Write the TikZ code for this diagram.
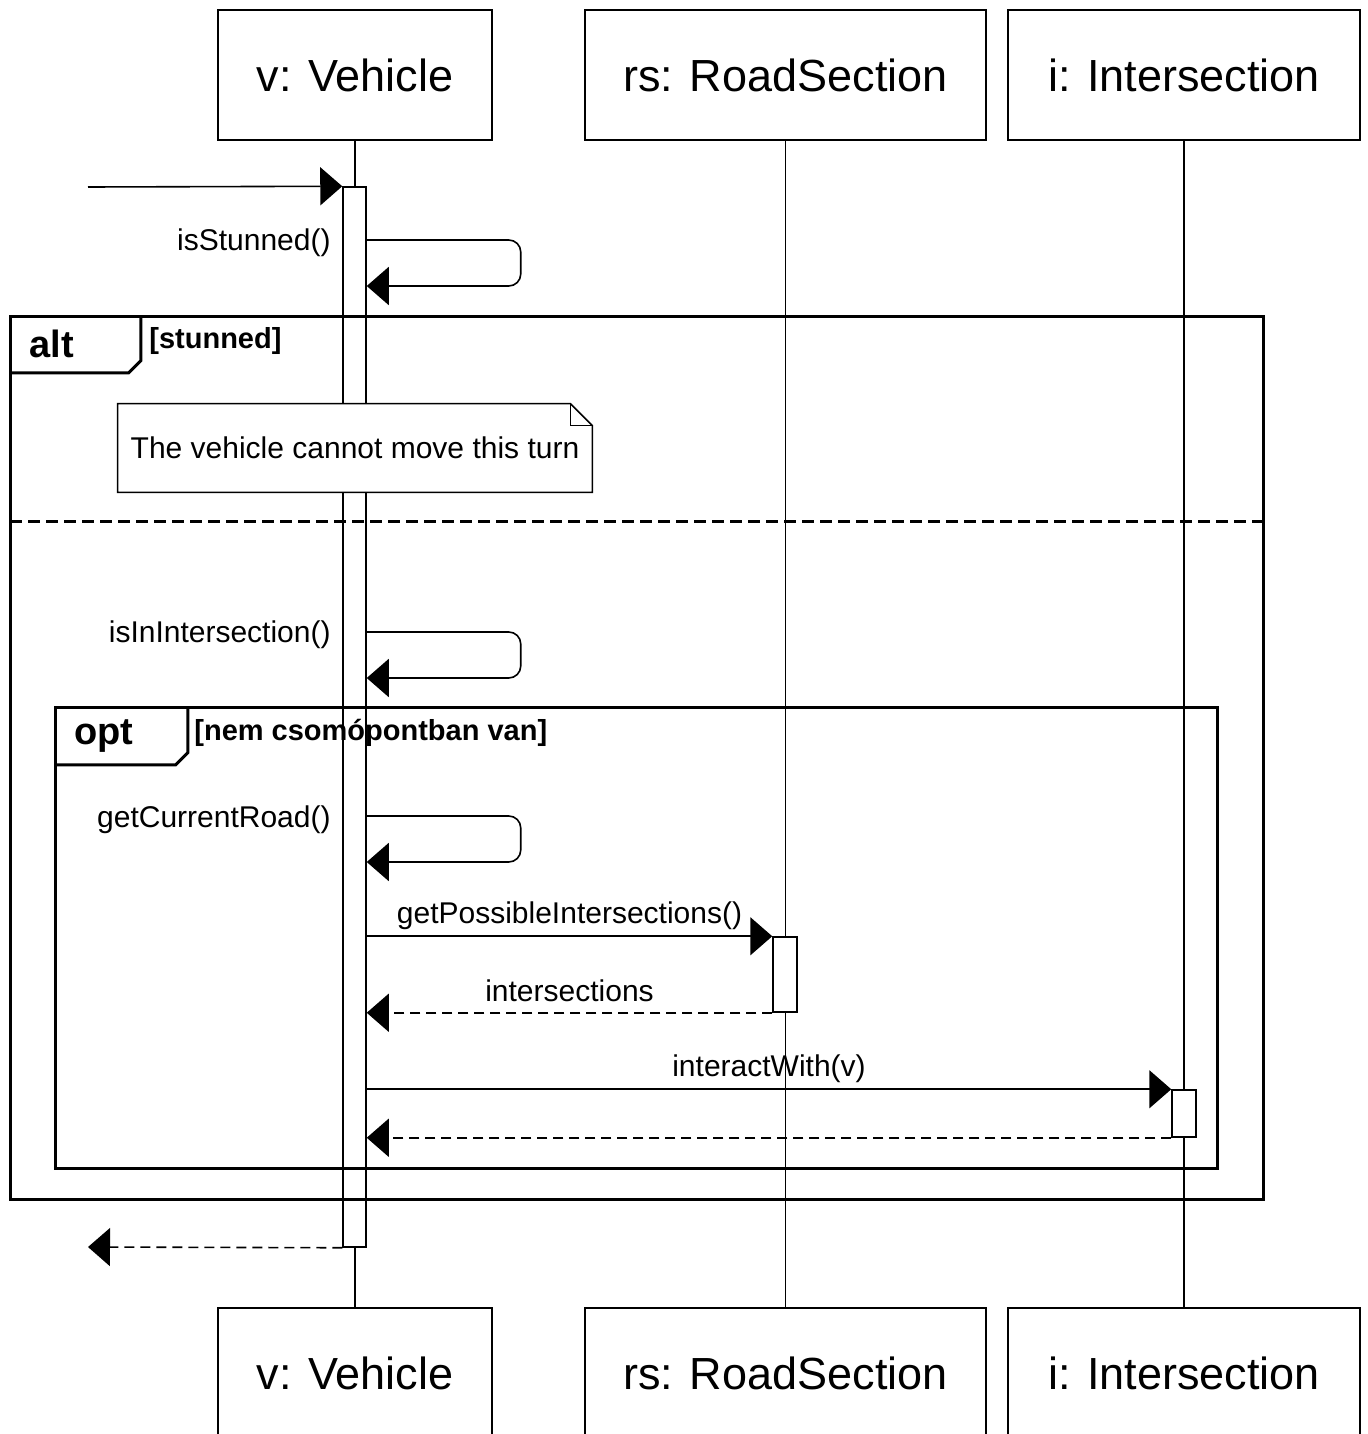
\documentclass[tikz,border=0pt]{standalone}
\usepackage{fontspec}
\setmainfont{Liberation Sans}
\usetikzlibrary{positioning, arrows.meta}

\begin{document}
\begin{tikzpicture}[x=0.5pt, y=-0.5pt]
\tikzstyle{obj}=[rectangle, draw=black, line width=0.75pt, outer sep=0pt, minimum height=65pt, font=\fontsize{22.5}{27}\selectfont]
\tikzstyle{bar}=[rectangle, draw=black, fill=white, line width=0.75pt, minimum width=11.5pt, inner sep=0pt]
\tikzstyle{life}=[line width=0.75pt]
\tikzstyle{connect}=[-{Triangle[length=11pt, width=19pt]}, line width=0.8pt]
\tikzstyle{reply}=[connect, dash pattern=on 5pt off 3pt]
\tikzstyle{self}=[connect, rounded corners=6pt]
\tikzstyle{lbl}=[font=\fontsize{15}{18}\selectfont, inner sep=1pt]
\tikzstyle{frame}=[line width=1.5pt]
\tikzstyle{tab}=[rectangle, anchor=north west, minimum height=28pt, text width=46pt, align=left, inner xsep=9.5pt, font=\bfseries\fontsize{19}{22}\selectfont]
\tikzstyle{guard}=[anchor=west, inner sep=0pt, font=\bfseries\fontsize{14.5}{17}\selectfont]
\tikzstyle{note}=[rectangle, fill=white, minimum width=237pt, minimum height=44pt, font=\fontsize{15}{18}\selectfont]
    \clip (0,0) rectangle (1367,1434);

    % objects
    \node[obj, minimum width=137pt] (v) at (355,75) {v: Vehicle};
    \node[obj, minimum width=200.5pt] (rs) [right=46.5pt of v] {rs: RoadSection};
    \node[obj, minimum width=176pt] (i) [right=11pt of rs] {i: Intersection};
    \node[obj, minimum width=137pt] (vb) [below=584pt of v] {v: Vehicle};
    \node[obj, minimum width=200.5pt] (rsb) [below=584pt of rs] {rs: RoadSection};
    \node[obj, minimum width=176pt] (ib) [below=584pt of i] {i: Intersection};

    \draw[life] (v) -- (vb);
    \draw[life] (rs) -- (rsb);
    \draw[life] (i) -- (ib);

    % activations
    \node[bar, minimum height=530pt] (vbar) at (354.5,717) {};
    \node[bar, minimum width=12pt, minimum height=37.5pt] (rsbar) at (785,974.5) {};
    \node[bar, minimum width=12pt, minimum height=23.5pt] (ibar) at (1184,1113.5) {};

    % alt frame
    \draw[frame] (10,316) rectangle (1263,1199);
    \node[tab] (altTab) at (10,316) {alt};
    \draw[frame] (altTab.north east) -- ([yshift=6pt]altTab.south east) -- ([xshift=-6pt]altTab.south east) -- (altTab.south west);
    \node[guard] (altGuard) at (149,341) {[stunned]};
    \draw[frame, dash pattern=on 6pt off 3pt] (10,521) -- (1263,521);

    % opt frame
    \draw[frame] (55,707) rectangle (1217,1168);
    \node[tab, minimum height=28.5pt, text width=47pt] (optTab) at (55,707) {opt};
    \draw[frame] (optTab.north east) -- ([yshift=6pt]optTab.south east) -- ([xshift=-6pt]optTab.south east) -- (optTab.south west);
    \node[guard] (optGuard) at (194,733) {[nem csomópontban van]};

    % messages
    \coordinate (start) at (88,187);
    \coordinate (end) at (88,1247);
    \draw[connect] (start) -- (vbar.north west);

    \draw[self] (vbar.east |- 0,240) -- ++(154,0) |- (vbar.east |- 0,286);
    \node[lbl, anchor=east] (m1) at (333,243) {isStunned()};

    \node[note] (nt) at (355,448) {The vehicle cannot move this turn};
    \draw[life] (nt.south west) -- (nt.north west) -- ([xshift=-11pt]nt.north east) -- ([yshift=-11pt]nt.north east) -- (nt.south east) -- cycle;
    \draw[life] ([xshift=-11pt]nt.north east) |- ([yshift=-11pt]nt.north east);

    \draw[self] (vbar.east |- 0,632) -- ++(154,0) |- (vbar.east |- 0,678);
    \node[lbl, anchor=east] (m2) at (333,635) {isInIntersection()};

    \draw[self] (vbar.east |- 0,816) -- ++(154,0) |- (vbar.east |- 0,862);
    \node[lbl, anchor=east] (m3) at (333,820) {getCurrentRoad()};

    \draw[connect] (vbar.east |- rsbar.north) -- node[lbl, above=2pt] {getPossibleIntersections()} (rsbar.north west);
    \draw[reply] (rsbar.south west) -- node[lbl, above=4pt] {intersections} (vbar.east |- rsbar.south);

    \draw[connect] (vbar.east |- ibar.north) -- node[lbl, above=2pt] {interactWith(v)} (ibar.north west);
    \draw[reply] (ibar.south west) -- (vbar.east |- ibar.south);

    \draw[reply] (vbar.south west) -- (end);
\end{tikzpicture}
\end{document}
